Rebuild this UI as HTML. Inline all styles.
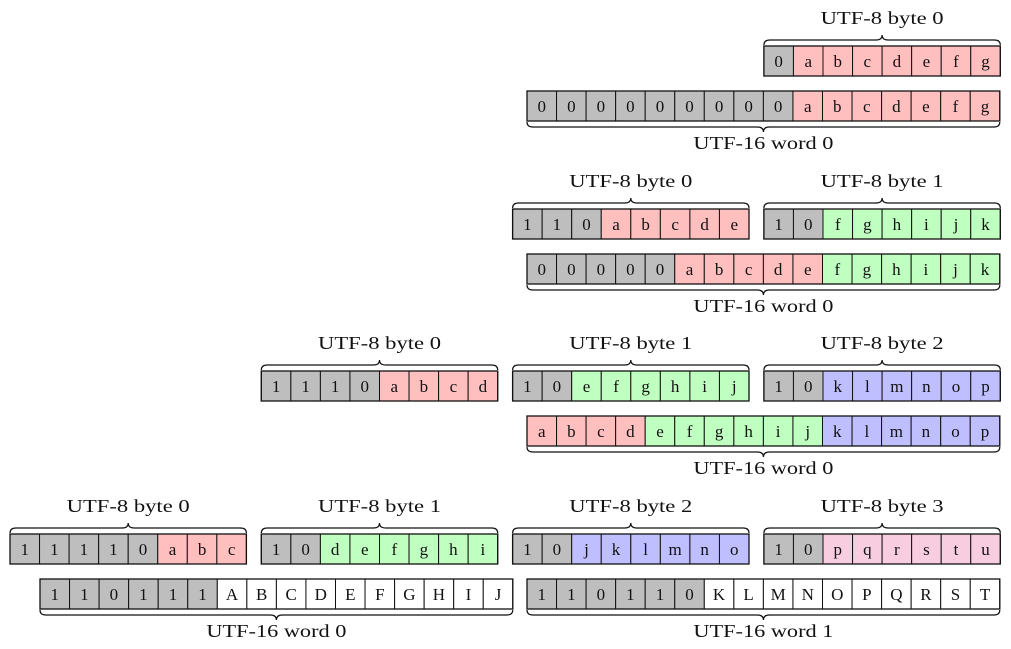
<!DOCTYPE html>
<html><head><meta charset="utf-8"><style>
html,body{margin:0;padding:0;background:#fff;}
svg{display:block;}
text{font-family:"Liberation Serif",serif;font-size:17px;fill:#111;}
text.lbl{font-size:18px;}
</style></head><body>
<svg id="diag" width="1011" height="649" viewBox="0 0 1011 649" xmlns="http://www.w3.org/2000/svg"></svg>
<script>
// Data arrays
const byteRows = [
  {y:46, slots:[3], bits:["0abcdefg"], cols:["krrrrrrr"]},
  {y:209, slots:[2,3], bits:["110abcde","10fghijk"], cols:["kkkrrrrr","kkgggggg"]},
  {y:371, slots:[1,2,3], bits:["1110abcd","10efghij","10klmnop"], cols:["kkkkrrrr","kkgggggg","kkbbbbbb"]},
  {y:534, slots:[0,1,2,3], bits:["11110abc","10defghi","10jklmno","10pqrstu"], cols:["kkkkkrrr","kkgggggg","kkbbbbbb","kkpppppp"]}
];
const wordRows = [
  {y:91, xs:[527], bits:["000000000abcdefg"], cols:["kkkkkkkkkrrrrrrr"], labels:["UTF-16 word 0"]},
  {y:254, xs:[527], bits:["00000abcdefghijk"], cols:["kkkkkrrrrrgggggg"], labels:["UTF-16 word 0"]},
  {y:416, xs:[527], bits:["abcdefghijklmnop"], cols:["rrrrggggggbbbbbb"], labels:["UTF-16 word 0"]},
  {y:579, xs:[40,527], bits:["110111ABCDEFGHIJ","110110KLMNOPQRST"], cols:["kkkkkkwwwwwwwwww","kkkkkkwwwwwwwwww"], labels:["UTF-16 word 0","UTF-16 word 1"]}
];
const palette = {k:"#bebebe", r:"#ffbfbf", g:"#bfffbf", b:"#bfbfff", p:"#f8cde0", w:"#ffffff"};
const CW = 29.55, CH = 30, SLOT0 = 10, SLOTW = 251.3;

const svg = document.getElementById('diag');
const NS = "http://www.w3.org/2000/svg";
function mk(tag, attrs, parent){
  const e = document.createElementNS(NS, tag);
  for (const k in attrs) e.setAttribute(k, attrs[k]);
  (parent||svg).appendChild(e);
  return e;
}
function drawBox(x, y, bits, cols, name){
  const g = mk('g', {});
  
  
  for (let i=0;i<bits.length;i++){
    const r = mk('rect', {x:x+i*CW, y:y, width:CW, height:CH, fill:palette[cols[i]], stroke:"#111", "stroke-width":1}, g);
    
    
    const t = mk('text', {x:x+i*CW+CW/2, y:y+21, "text-anchor":"middle"}, g);
    t.textContent = bits[i];
    
    
  }
  mk('rect', {x:x, y:y, width:CW*bits.length, height:CH, fill:"none", stroke:"#111", "stroke-width":1.3}, g);
}
function brace(x1, x2, b, dir, name){
  const m = (x1+x2)/2, d = dir;
  const p = `M${x1} ${b} Q${x1} ${b+5*d} ${x1+6} ${b+5*d} L${m-6} ${b+5*d} Q${m} ${b+5*d} ${m} ${b+10*d} Q${m} ${b+5*d} ${m+6} ${b+5*d} L${x2-6} ${b+5*d} Q${x2} ${b+5*d} ${x2} ${b}`;
  const e = mk('path', {d:p, fill:"none", stroke:"#111", "stroke-width":1.2});
  
  
}
function label(x, y, s, len, name){
  const t = mk('text', {x:x-len/2, y:y, textLength:len, lengthAdjust:"spacingAndGlyphs", "class":"lbl"});
  t.textContent = s;
  
  
}
byteRows.forEach(row=>{
  row.slots.forEach((s,i)=>{
    const x = SLOT0 + s*SLOTW;
    const w = row.bits[i].length*CW;
    drawBox(x, row.y, row.bits[i], row.cols[i], 'utf8-byte-'+i);
    brace(x, x+w, row.y-1, -1, 'byte-brace');
    label(x+w/2, row.y-22, 'UTF-8 byte '+i, 123, 'byte-label');
  });
});
wordRows.forEach(row=>{
  row.xs.forEach((x,i)=>{
    const w = row.bits[i].length*CW;
    drawBox(x, row.y, row.bits[i], row.cols[i], 'utf16-word-'+i);
    brace(x, x+w, row.y+CH+1, 1, 'word-brace');
    label(x+w/2, row.y+CH+28, row.labels[i], 140, 'word-label');
  });
});
</script>
</body></html>
